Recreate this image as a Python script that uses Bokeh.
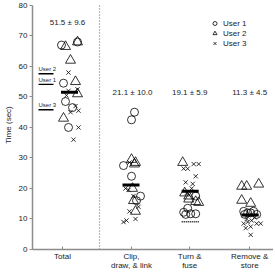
from bokeh.plotting import figure
from bokeh.models import Range1d, FixedTicker, ColumnDataSource, Legend, LegendItem
from bokeh.core.properties import value
from bokeh.embed import file_html
from bokeh.resources import INLINE

# ---------------- data ----------------
categories = ["Total", "Clip,\ndraw, & link", "Turn &\nfuse", "Remove &\nstore"]
stat_labels = ["51.5 \u00b1 9.6", "21.1 \u00b1 10.0", "19.1 \u00b1 5.9", "11.3 \u00b1 4.5"]
overall_means = [51.5, 21.1, 19.1, 11.3]

user1_times = [[67, 68, 54.5, 48.5, 46.5, 40],
               [45, 42.5, 27.5, 24, 17.5, 16],
               [17.5, 13.5, 12.2, 11.7, 11.5, 11.7],
               [12.5, 12, 12.5, 11.5, 12, 11.5]]
user2_times = [[66.5, 68, 62, 55, 51, 43],
               [29.5, 28.5, 28, 20, 16, 12.5],
               [28.5, 17.5, 16.5, 15.7, 15.4, 18.5],
               [20.7, 20.7, 21.4, 16.1, 15.1]]
user3_times = [[58, 52.5, 52, 50.5, 47, 45.5, 45, 40, 36],
               [28.5, 20, 19.5, 17.5, 12.5, 10, 9, 9.5, 14],
               [28, 28, 26.5, 26.5, 24, 22, 21.5, 18.5, 20],
               [9.5, 8.5, 8.5, 8.5, 9, 7.5, 7, 4.8, 10.5, 10]]

user_names = ["User 1", "User 2", "User 3"]
user_means_total = [54.1, 57.6, 45.8]
turn_floor = [9.1]

# ---------------- layout (positions / jitter, not data) ----------------
cat_pos = [1.0, 2.15, 3.12, 4.12]
PX = 1.0 / 60.0
u1_jit = [[-1, 15, 1, 3, 10, 6], [3, 0, -8, 0, 9, 5], [6, -2, -6, 1, -4, 6], [-6, -2, 4, 7, 1, -5]]
u2_jit = [[3, 15, 8, 13, 15, 1], [0, 4, 3, 1, 2, 4], [-7, -1, -1, 6, 9, -5], [-8, -3, 9, -8, 1]]
u3_jit = [[6, 15, 6, 4, 13, 16, 8, 16, 11], [-2, -6, -3, 2, -2, 4, -8, -5, 7],
          [4, 9, -6, -2, 6, -4, 3, -3, 2], [2, -6, 7, 11, -2, 1, -4, 1, 5, -3]]
bar_center = [7, -0.5, 0.5, 0.5]
bar_half = 8.5
stat_offset = [5, 1, 0, 0]
stat_y = [74.5, 51.5, 51.5, 51.5]

FONT = "Liberation Sans"


def flatten(times, jit):
    xs, ys = [], []
    for i, (t, j) in enumerate(zip(times, jit)):
        for tv, jv in zip(t, j):
            xs.append(cat_pos[i] + jv * PX)
            ys.append(tv)
    return ColumnDataSource(dict(x=xs, y=ys))


p = figure(frame_width=241, frame_height=249, output_backend="svg", toolbar_location=None,
           x_range=Range1d(1 - 30 * PX, 1 - 30 * PX + 241 * PX),
           y_range=Range1d(0, 81.6),
           min_border_left=0, min_border_right=0, min_border_top=0, min_border_bottom=0)
p.outline_line_color = None
p.xgrid.visible = False
p.ygrid.visible = False
p.background_fill_color = "white"
p.border_fill_color = "white"

# axes
p.yaxis.ticker = FixedTicker(ticks=list(range(0, 81, 10)))
p.yaxis.bounds = (0, 80)
p.yaxis.axis_label = "Time (sec)"
p.xaxis.ticker = FixedTicker(ticks=cat_pos)
p.xaxis.major_label_overrides = {cp: c for cp, c in zip(cat_pos, categories)}
for ax in (p.xaxis, p.yaxis):
    ax.axis_line_color = "#8c8c8c"
    ax.axis_line_width = 1.5
    ax.major_tick_line_color = "#8c8c8c"
    ax.major_tick_line_width = 1
    ax.minor_tick_line_color = None
    ax.major_label_text_font = FONT
    ax.major_label_text_font_size = "8px"
    ax.major_label_text_color = "#222222"
    ax.axis_label_text_font = FONT
    ax.axis_label_text_font_size = "8px"
    ax.axis_label_text_font_style = "normal"
    ax.axis_label_text_color = "#222222"
p.yaxis.major_tick_out = 3
p.yaxis.major_tick_in = 0
p.yaxis.major_label_standoff = 2
p.yaxis.axis_label_standoff = 3
p.xaxis.major_tick_out = 0
p.xaxis.major_tick_in = 3
p.xaxis.major_label_standoff = 2
p.xaxis.major_label_text_line_height = 1.0

# dotted separator between Total and tasks
p.segment(x0=[1.617], y0=[0], x1=[1.617], y1=[80], line_color="#777777",
          line_width=1.2, line_dash="1 2")

# scatter points
r1 = p.scatter("x", "y", source=flatten(user1_times, u1_jit), marker="circle", size=8,
               fill_color=None, line_color="black", line_width=0.8)
r2 = p.scatter("x", "y", source=flatten(user2_times, u2_jit), marker="triangle", size=10,
               fill_color=None, line_color="black", line_width=0.8)
r3 = p.scatter("x", "y", source=flatten(user3_times, u3_jit), marker="x", size=6,
               line_color="black", line_width=0.8)

# overall mean bars
p.segment(x0=[cp + (c - bar_half) * PX for cp, c in zip(cat_pos, bar_center)],
          x1=[cp + (c + bar_half) * PX for cp, c in zip(cat_pos, bar_center)],
          y0=overall_means, y1=overall_means, line_color="black", line_width=3)

# dotted floor at turn & fuse
p.segment(x0=[cat_pos[2] - 8 * PX], x1=[cat_pos[2] + 9 * PX], y0=turn_floor, y1=turn_floor,
          line_color="black", line_width=1.5, line_dash="1 1")

# per-user means for Total
ux0 = cat_pos[0] - 24 * PX
ux1 = cat_pos[0] - 9 * PX
p.segment(x0=[ux0] * 3, x1=[ux1] * 3, y0=user_means_total, y1=user_means_total,
          line_color="black", line_width=1.3)
p.text(x=[ux0] * 3, y=[m + 0.6 for m in user_means_total], text=user_names,
       text_font=value(FONT), text_font_size="6px", text_baseline="bottom",
       text_align="left", text_color="#222222")

# stats labels
p.text(x=[cp + o * PX for cp, o in zip(cat_pos, stat_offset)], y=stat_y, text=stat_labels,
       text_font=value(FONT), text_font_size="8px", text_baseline="middle",
       text_align="center", text_color="#222222")

legend = Legend(items=[LegendItem(label="User 1", renderers=[r1]),
                       LegendItem(label="User 2", renderers=[r2]),
                       LegendItem(label="User 3", renderers=[r3])],
                location=(177, 201))
legend.label_text_font = FONT
legend.label_text_font_size = "8px"
legend.label_text_color = "#222222"
legend.glyph_width = 11
legend.glyph_height = 10
legend.label_height = 10
legend.label_standoff = 3
legend.spacing = 0
legend.padding = 0
legend.margin = 0
legend.border_line_color = None
legend.background_fill_alpha = 0
p.add_layout(legend)

open("out.html", "w").write(file_html(p, INLINE))
